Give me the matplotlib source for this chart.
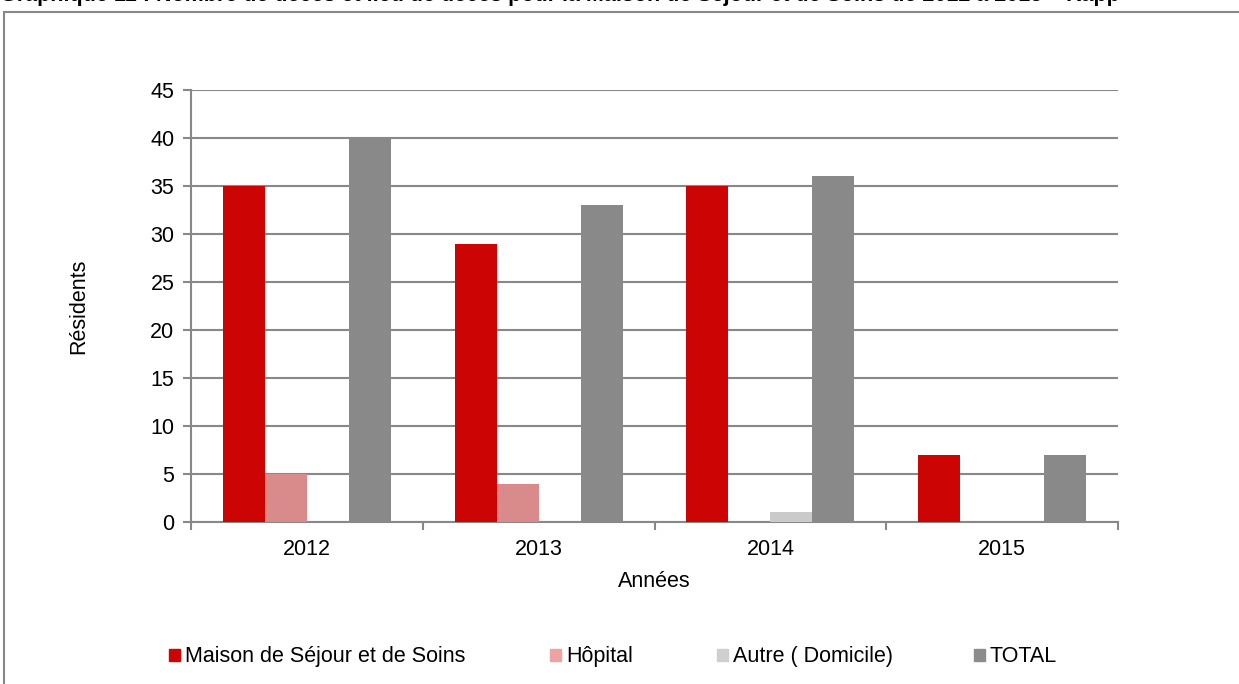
import matplotlib.pyplot as plt
import numpy as np
from matplotlib.patches import Rectangle

plt.rcParams['font.family'] = ['Liberation Sans', 'DejaVu Sans']

years = ['2012', '2013', '2014', '2015']
series = ['Maison de Séjour et de Soins', 'Hôpital', 'Autre ( Domicile)', 'TOTAL']
maison = [35, 29, 35, 7]
hopital = [5, 4, 0, 0]
autre = [0, 0, 1, 0]
total = [40, 33, 36, 7]
colors = ['#cc0404', '#d98a8a', '#cacaca', '#898989']
legend_colors = ['#cc0404', '#eda3a3', '#cfcfcf', '#8c8c8c']

W, H = 1239, 684
fs = 15.5
fig = plt.figure(figsize=(W / 100, H / 100), dpi=100)
ax = fig.add_axes([191/W, 1-522/H, (1118-191)/W, (522-90)/H])

x = np.arange(len(years))
w = 0.181
for i, vals in enumerate([maison, hopital, autre, total]):
    ax.bar(x + (i - 1.5) * w, vals, w, color=colors[i], zorder=3)

ax.set_xlim(-0.5, 3.5)
ax.set_ylim(0, 45)
ax.set_yticks(range(0, 50, 5))
ax.set_xticks(x)
ax.set_xticklabels(years)
ax.set_xticks(np.arange(-0.5, 4, 1), minor=True)
ax.tick_params(axis='x', which='major', length=0, labelsize=fs, pad=12)
ax.tick_params(axis='x', which='minor', length=6, width=1.5, color='#888888')
ax.tick_params(axis='y', length=6, width=1.5, color='#888888', labelsize=fs, pad=6)
ax.grid(axis='y', color='#888888', lw=1.5, zorder=1)
for s in ['top', 'right']:
    ax.spines[s].set_visible(False)
for s in ['left', 'bottom']:
    ax.spines[s].set_color('#888888')
    ax.spines[s].set_linewidth(1.5)

ax.set_ylabel('Résidents', fontsize=fs, labelpad=44)
ax.set_xlabel('Années', fontsize=fs, labelpad=8)

# legend drawn by hand, Excel-like spacing
leg_x = [169, 550, 717, 974]
for lx, c, name in zip(leg_x, legend_colors, series):
    fig.patches.append(Rectangle((lx / W, 1 - 661/H), 11 / W, 12 / H,
                                 transform=fig.transFigure, color=c))
    fig.text((lx + 16) / W, 1 - 662/H, name, fontsize=fs, va='baseline', ha='left')

fig.patches.append(Rectangle((4/W, -0.1), 1.2, 1.1 - 12/H, transform=fig.transFigure,
                             fill=False, ec='#888888', lw=1.5))
fig.text(0.0, 1 - 1.5/H, 'Graphique 11 : Nombre de décès et lieu de décès pour la Maison de Séjour et de Soins de 2012 à 2015 – Rapp',
         fontsize=fs, fontweight='bold', va='baseline', ha='left')

fig.savefig('out.png', dpi=100)
